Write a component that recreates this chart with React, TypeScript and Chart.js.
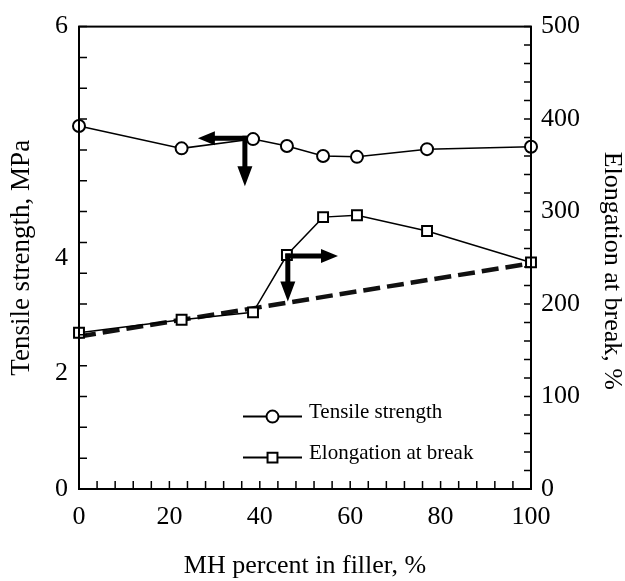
import React, { useEffect, useRef } from 'react';
import { Chart, registerables } from 'chart.js';

Chart.register(...registerables);

// ---- data ----
const mhPercent = [0, 22.7, 38.5, 46, 54, 61.5, 77, 100];
const tensileStrength = [4.71, 4.42, 4.54, 4.45, 4.32, 4.31, 4.41, 4.44];
const elongationAtBreak = [169, 183, 191, 253, 294, 296, 279, 245];
const trendX = [0, 100];
const trendElongation = [165, 244];

const xTickLabels = [0, 20, 40, 60, 80, 100];
// left-axis labels as printed in the figure: text and the axis value where each sits
const leftLabelText = ['0', '2', '4', '6'];
const leftLabelAt = [0, 1.5, 3, 6];
const rightTickLabels = [0, 100, 200, 300, 400, 500];

// arrow annotations in data units (corner, horizontal tip x, vertical tip y)
const arrowTensile = { x: 36.7, y: 4.55, tipX: 26.3, tipY: 3.93, axis: 'y', dir: -1 };
const arrowElongation = { x: 46.2, y: 252, tipX: 57.3, tipY: 202.7, axis: 'y2', dir: 1 };

const FONT = '"Liberation Serif", "Times New Roman", serif';
const LEFT_STEP = 0.4;

const near = (a: number, b: number) => Math.abs(a - b) < 1e-6;
const isLabel = (list: number[], v: number) => list.some((t) => near(t, v));
const isMultiple = (v: number, step: number) => near(v / step, Math.round(v / step));

function drawArrow(ctx: CanvasRenderingContext2D, x0: number, y0: number, x1: number, y1: number, shaftW: number, headW: number, headL: number) {
  const dx = x1 - x0, dy = y1 - y0;
  const len = Math.hypot(dx, dy);
  const ux = dx / len, uy = dy / len;
  const nx = -uy, ny = ux;
  const bx = x1 - ux * headL, by = y1 - uy * headL;
  ctx.beginPath();
  ctx.moveTo(x0 + nx * shaftW / 2, y0 + ny * shaftW / 2);
  ctx.lineTo(bx + nx * shaftW / 2, by + ny * shaftW / 2);
  ctx.lineTo(bx + nx * headW / 2, by + ny * headW / 2);
  ctx.lineTo(x1, y1);
  ctx.lineTo(bx - nx * headW / 2, by - ny * headW / 2);
  ctx.lineTo(bx - nx * shaftW / 2, by - ny * shaftW / 2);
  ctx.lineTo(x0 - nx * shaftW / 2, y0 - ny * shaftW / 2);
  ctx.closePath();
  ctx.fill();
}

const decorPlugin = {
  id: 'decor',
  beforeDraw(chart: any) {
    const { ctx, width, height } = chart;
    ctx.save();
    ctx.fillStyle = '#fff';
    ctx.fillRect(0, 0, width, height);
    ctx.restore();
  },
  afterDraw(chart: any) {
    const { ctx, chartArea: a, scales } = chart;
    ctx.save();
    ctx.strokeStyle = '#000';
    ctx.fillStyle = '#000';

    // inward tick marks
    ctx.lineWidth = 1.5;
    ctx.beginPath();
    scales.x.ticks.forEach((t: any) => {
      const px = scales.x.getPixelForValue(t.value);
      ctx.moveTo(px, a.bottom);
      ctx.lineTo(px, a.bottom - 8);
    });
    scales.y.ticks.forEach((t: any) => {
      if (!isMultiple(t.value, LEFT_STEP)) return;
      const py = scales.y.getPixelForValue(t.value);
      ctx.moveTo(a.left, py);
      ctx.lineTo(a.left + 8, py);
    });
    scales.y2.ticks.forEach((t: any) => {
      const py = scales.y2.getPixelForValue(t.value);
      ctx.moveTo(a.right, py);
      ctx.lineTo(a.right - 7, py);
    });
    ctx.stroke();

    // frame
    ctx.lineWidth = 2;
    ctx.strokeRect(a.left, a.top, a.right - a.left, a.bottom - a.top);

    // arrows
    [arrowTensile, arrowElongation].forEach((ar) => {
      const ys = scales[ar.axis];
      const cx = scales.x.getPixelForValue(ar.x);
      const cy = ys.getPixelForValue(ar.y);
      const tx = scales.x.getPixelForValue(ar.tipX);
      const ty = ys.getPixelForValue(ar.tipY);
      drawArrow(ctx, cx - ar.dir * 2.5, cy, tx, cy, 5, 14, 17);
      drawArrow(ctx, cx, cy - 2.5, cx, ty, 5, 15, 20);
    });

    // legend
    const items = chart.data.datasets.filter((d: any) => d.showInLegend);
    const lx0 = a.left + 164;
    const lx1 = a.left + 223;
    const rows = [a.top + 390, a.top + 431];
    items.forEach((d: any, i: number) => {
      const y = rows[i];
      ctx.lineWidth = 2;
      ctx.strokeStyle = '#000';
      ctx.beginPath();
      ctx.moveTo(lx0, y);
      ctx.lineTo(lx1, y);
      ctx.stroke();
      const mx = (lx0 + lx1) / 2;
      ctx.fillStyle = '#fff';
      ctx.lineWidth = d.pointBorderWidth;
      ctx.beginPath();
      if (d.pointStyle === 'circle') {
        ctx.arc(mx, y, d.pointRadius, 0, Math.PI * 2);
      } else {
        const s = d.pointRadius * Math.SQRT1_2;
        ctx.rect(mx - s, y - s, 2 * s, 2 * s);
      }
      ctx.fill();
      ctx.stroke();
      ctx.fillStyle = '#000';
      ctx.font = `21px ${FONT}`;
      ctx.textAlign = 'left';
      ctx.textBaseline = 'middle';
      ctx.fillText(d.label, lx1 + 7, y - 4);
    });
    ctx.restore();
  },
};

export default function App() {
  const ref = useRef<HTMLCanvasElement | null>(null);

  useEffect(() => {
    if (!ref.current) return;
    const tickFont = { family: FONT, size: 26 };
    const titleFont = { family: FONT, size: 26, lineHeight: 1 };

    const chart = new Chart(ref.current, {
      type: 'line',
      data: {
        datasets: [
          {
            label: 'Tensile strength',
            showInLegend: true,
            data: mhPercent.map((x, i) => ({ x, y: tensileStrength[i] })),
            yAxisID: 'y',
            borderColor: '#000',
            borderWidth: 1.5,
            pointStyle: 'circle',
            pointRadius: 6,
            pointBorderWidth: 2,
            pointBackgroundColor: '#fff',
            pointBorderColor: '#000',
            clip: false,
          } as any,
          {
            label: 'Elongation at break',
            showInLegend: true,
            data: mhPercent.map((x, i) => ({ x, y: elongationAtBreak[i] })),
            yAxisID: 'y2',
            borderColor: '#000',
            borderWidth: 1.5,
            pointStyle: 'rect',
            pointRadius: 7,
            pointBorderWidth: 2,
            pointBackgroundColor: '#fff',
            pointBorderColor: '#000',
            clip: false,
          } as any,
          {
            label: 'Elongation trend',
            showInLegend: false,
            data: trendX.map((x, i) => ({ x, y: trendElongation[i] })),
            yAxisID: 'y2',
            borderColor: '#111',
            borderWidth: 4.5,
            borderDash: [17, 7],
            pointRadius: 0,
            clip: false,
          } as any,
        ],
      },
      options: {
        responsive: false,
        animation: false,
        devicePixelRatio: 1,
        layout: { padding: { top: 22.7, left: 0, right: 0, bottom: 0 } },
        plugins: { legend: { display: false }, tooltip: { enabled: false } },
        scales: {
          x: {
            type: 'linear',
            min: 0,
            max: 100,
            afterFit: (s: any) => { s.height = 92; },
            grid: { display: false, drawTicks: false },
            border: { display: false },
            ticks: {
              stepSize: 4,
              autoSkip: false,
              maxRotation: 0,
              padding: 13,
              color: '#000',
              font: tickFont,
              callback: (v: any) => (isLabel(xTickLabels, Number(v)) ? String(Math.round(Number(v))) : ''),
            },
            title: { display: true, text: 'MH percent in filler, %', color: '#000', font: titleFont, padding: { top: 0, bottom: 2 } },
          },
          y: {
            type: 'linear',
            position: 'left',
            min: 0,
            max: 6,
            afterFit: (s: any) => { s.width = 79; },
            afterBuildTicks: (s: any) => {
              const extra = leftLabelAt.filter((v) => !s.ticks.some((t: any) => near(t.value, v))).map((v) => ({ value: v }));
              s.ticks = [...s.ticks, ...extra].sort((p: any, q: any) => p.value - q.value);
            },
            grid: { display: false, drawTicks: false },
            border: { display: false },
            ticks: {
              stepSize: LEFT_STEP,
              autoSkip: false,
              padding: 11,
              color: '#000',
              font: tickFont,
              callback: (v: any) => {
                const i = leftLabelAt.findIndex((p) => near(p, Number(v)));
                return i >= 0 ? leftLabelText[i] : '';
              },
            },
            title: { display: true, text: 'Tensile strength, MPa', color: '#000', font: { family: FONT, size: 27, lineHeight: 1 }, padding: { top: 8, bottom: 0 } },
          },
          y2: {
            type: 'linear',
            position: 'right',
            min: 0,
            max: 500,
            afterFit: (s: any) => { s.width = 94; },
            grid: { display: false, drawTicks: false },
            border: { display: false },
            ticks: {
              stepSize: 20,
              autoSkip: false,
              padding: 10,
              color: '#000',
              font: tickFont,
              callback: (v: any) => (isLabel(rightTickLabels, Number(v)) ? String(Math.round(Number(v))) : ''),
            },
            title: { display: true, text: '    Elongation at break, %', color: '#000', font: titleFont, padding: { top: 0, bottom: 0 } },
          },
        },
      } as any,
      plugins: [decorPlugin],
    });
    return () => chart.destroy();
  }, []);

  return (
    <div style={{ position: 'absolute', left: 0, top: 0, width: 625, height: 581, background: '#fff' }}>
      <canvas ref={ref} width={625} height={581} style={{ display: 'block', width: 625, height: 581 }} />
    </div>
  );
}
